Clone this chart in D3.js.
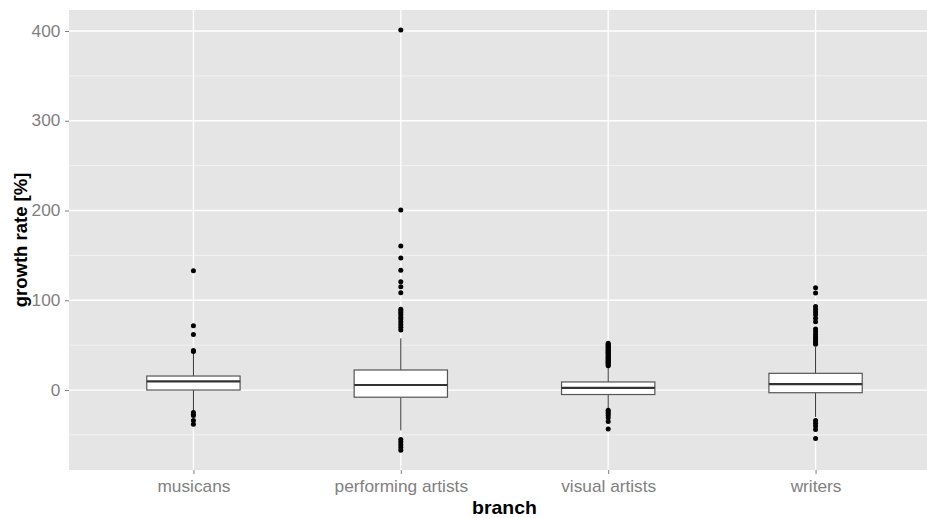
<!DOCTYPE html>
<html>
<head>
<meta charset="utf-8">
<script src="https://cdn.jsdelivr.net/npm/d3@7"></script>
<style>
  body { margin: 0; background: #fff; }
  svg { display: block; font-family: "Liberation Sans", Arial, sans-serif; }
</style>
</head>
<body>
<svg id="chart"></svg>
<script>
// Data
const categories = ["musicans", "performing artists", "visual artists", "writers"];
const q1 = [0, -8, -5, -3];
const medians = [9.7, 5.6, 2.4, 6.5];
const q3 = [15.6, 22.3, 9, 18.6];
const whiskerLow = [-23, -45, -21.5, -30];
const whiskerHigh = [41, 57.6, 26, 48];

const musicansOutliers = [133, 71.5, 62, 44, 43, -25, -27, -28.5, -34, -38];
const performingOutliers = [401, 200.6, 160.4, 147, 133.4, 120.7, 115.1, 108.4, 90, 88, 86, 84, 81, 79, 76, 73, 70, 67, -55, -58, -61, -64, -67];
const visualOutliers = [52, 51, 50, 49, 48, 47, 46, 45, 44, 43, 42, 41, 40, 39, 38, 37, 36, 35, 34, 33, 32, 31, 30, 29, 28, 27, -22.5, -24, -26, -28, -31, -35, -43.5];
const writersOutliers = [114, 108, 93, 90, 87, 84, 80, 76, 68, 65, 62, 59, 57, 55, 53, 51, -34, -37, -40, -44, -54];

const yTicks = [0, 100, 200, 300, 400];
const yMinorTicks = [-50, 50, 150, 250, 350];

const outliers = [musicansOutliers, performingOutliers, visualOutliers, writersOutliers];

const W = 927, H = 518;
const panel = { left: 69, top: 10, right: 940, bottom: 470 };

const svg = d3.select("#chart").attr("width", W).attr("height", H);

const x = d3.scalePoint()
  .domain(categories)
  .range([panel.left, panel.right])
  .padding(0.6);

const y = d3.scaleLinear()
  .domain([-89.1, 423.4])
  .range([panel.bottom, panel.top]);

// panel background
svg.append("rect")
  .attr("x", panel.left)
  .attr("y", panel.top)
  .attr("width", panel.right - panel.left)
  .attr("height", panel.bottom - panel.top)
  .attr("fill", "#E5E5E5");

// minor grid
svg.append("g")
  .selectAll("line")
  .data(yMinorTicks)
  .join("line")
  .attr("x1", panel.left)
  .attr("x2", panel.right)
  .attr("y1", d => y(d))
  .attr("y2", d => y(d))
  .attr("stroke", "#F2F2F2")
  .attr("stroke-width", 1);

// major grid
svg.append("g")
  .selectAll("line")
  .data(yTicks)
  .join("line")
  .attr("x1", panel.left)
  .attr("x2", panel.right)
  .attr("y1", d => y(d))
  .attr("y2", d => y(d))
  .attr("stroke", "#fff")
  .attr("stroke-width", 1.3);

svg.append("g")
  .selectAll("line")
  .data(categories)
  .join("line")
  .attr("x1", d => x(d))
  .attr("x2", d => x(d))
  .attr("y1", panel.top)
  .attr("y2", panel.bottom)
  .attr("stroke", "#fff")
  .attr("stroke-width", 1.3);

// boxplots
const boxW = x.step() * 0.45;
const boxes = categories.map((c, i) => ({
  cat: c, q1: q1[i], med: medians[i], q3: q3[i], lo: whiskerLow[i], hi: whiskerHigh[i]
}));

const g = svg.append("g");

g.selectAll(".whisker-hi")
  .data(boxes)
  .join("line")
  .attr("x1", d => x(d.cat))
  .attr("x2", d => x(d.cat))
  .attr("y1", d => y(d.q3))
  .attr("y2", d => y(d.hi))
  .attr("stroke", "#333")
  .attr("stroke-width", 1);

g.selectAll(".whisker-lo")
  .data(boxes)
  .join("line")
  .attr("x1", d => x(d.cat))
  .attr("x2", d => x(d.cat))
  .attr("y1", d => y(d.q1))
  .attr("y2", d => y(d.lo))
  .attr("stroke", "#333")
  .attr("stroke-width", 1);

g.selectAll(".box")
  .data(boxes)
  .join("rect")
  .attr("x", d => x(d.cat) - boxW / 2)
  .attr("width", boxW)
  .attr("y", d => y(d.q3))
  .attr("height", d => y(d.q1) - y(d.q3))
  .attr("fill", "#fff")
  .attr("stroke", "#555")
  .attr("stroke-width", 1.2);

g.selectAll(".median")
  .data(boxes)
  .join("line")
  .attr("x1", d => x(d.cat) - boxW / 2)
  .attr("x2", d => x(d.cat) + boxW / 2)
  .attr("y1", d => y(d.med))
  .attr("y2", d => y(d.med))
  .attr("stroke", "#333")
  .attr("stroke-width", 2.2);

// outlier points
const pts = [];
categories.forEach((c, i) => outliers[i].forEach(v => pts.push({ cat: c, v })));
g.selectAll("circle")
  .data(pts)
  .join("circle")
  .attr("cx", d => x(d.cat))
  .attr("cy", d => y(d.v))
  .attr("r", 2.5)
  .attr("fill", "#000");

// axes
const yAxis = svg.append("g")
  .attr("transform", `translate(${panel.left},0)`)
  .call(d3.axisLeft(y).tickValues(yTicks).tickSize(4).tickPadding(4));
const xAxis = svg.append("g")
  .attr("transform", `translate(0,${panel.bottom})`)
  .call(d3.axisBottom(x).tickSize(4).tickPadding(7));

[yAxis, xAxis].forEach(ax => {
  ax.select(".domain").remove();
  ax.selectAll(".tick line").attr("stroke", "#7F7F7F");
  ax.selectAll(".tick text")
    .attr("fill", "#7F7F7F")
    .attr("font-size", 16)
    .attr("font-family", "Liberation Sans, Arial, sans-serif")
    .attr("transform", "scale(1.08,1)");
});

// axis titles
svg.append("text")
  .attr("transform", `translate(${(panel.left + panel.right) / 2},514) scale(1.08,1)`)
  .attr("text-anchor", "middle")
  .attr("font-size", 18)
  .attr("font-weight", "bold")
  .attr("fill", "#000")
  .text("branch");

svg.append("text")
  .attr("transform", `translate(27,${(panel.top + panel.bottom) / 2}) rotate(-90)`)
  .attr("text-anchor", "middle")
  .attr("font-size", 18.5)
  .attr("font-weight", "bold")
  .attr("fill", "#000")
  .text("growth rate [%]");
</script>
</body>
</html>
